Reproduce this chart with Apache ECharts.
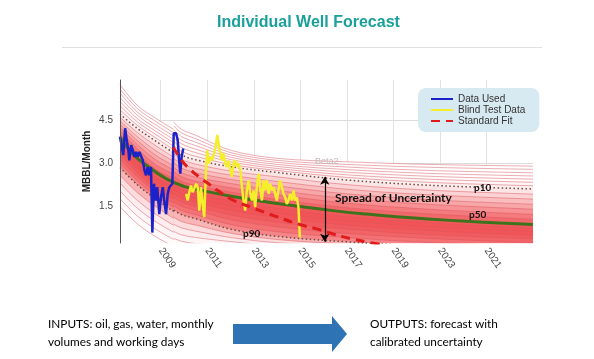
<!DOCTYPE html>
<html><head><meta charset="utf-8">
<script src="https://cdn.jsdelivr.net/npm/echarts@6/dist/echarts.min.js"></script>
<style>html,body{margin:0;padding:0;background:#fff}#c{width:594px;height:359px}</style>
</head><body><div id="c"></div>
<script>
// ---------- axis ticks ----------
const tickYears  = [2009, 2011, 2013, 2015, 2017, 2019, 2021, 2023];
const tickLabels = ['2009','2011','2013','2015','2017','2019','2023','2021'];
const yTicks = [1.5, 3.0, 4.5];

// ---------- Data Used (blue) ----------
const blueYears  = [2007.25,2007.33,2007.39,2007.47,2007.54,2007.61,2007.65,2007.73,2007.80,2007.87,2007.94,2008.01,2008.08,2008.15,2008.23,2008.30,2008.37,2008.44,2008.51,2008.58,2008.64,2008.71,2008.79,2008.85,2008.94,2009.01,2009.09,2009.15,2009.23,2009.30,2009.37,2009.44,2009.50,2009.56,2009.66,2009.73,2009.79,2009.84,2009.90,2009.97];
const blueValues = [3.92,3.57,3.28,4.21,3.80,3.45,3.10,3.63,3.45,3.22,3.39,3.22,3.39,3.45,3.10,2.76,2.58,2.87,2.58,2.87,0.60,2.29,1.71,2.17,1.24,1.82,2.17,1.71,1.24,1.94,2.17,2.12,2.29,4.04,4.04,3.80,3.10,2.64,3.22,3.51];

// ---------- Blind Test Data (yellow) ----------
const yellowYears  = [2010.09,2010.16,2010.23,2010.30,2010.37,2010.44,2010.52,2010.59,2010.66,2010.73,2010.80,2010.87,2010.94,2011.00,2011.07,2011.15,2011.21,2011.29,2011.36,2011.43,2011.49,2011.56,2011.63,2011.70,2011.77,2011.85,2011.92,2011.99,2012.06,2012.13,2012.20,2012.27,2012.35,2012.42,2012.49,2012.56,2012.63,2012.70,2012.78,2012.85,2012.92,2012.99,2013.06,2013.13,2013.21,2013.27,2013.35,2013.42,2013.49,2013.56,2013.64,2013.70,2013.78,2013.85,2013.92,2013.99,2014.06,2014.13,2014.21,2014.28,2014.35,2014.42,2014.49,2014.56,2014.64,2014.71,2014.78,2014.85,2014.92,2014.98];
const yellowValues = [1.94,1.71,2.00,2.23,2.00,2.12,2.29,2.17,1.36,2.17,1.59,1.13,2.64,3.45,2.99,3.22,3.10,3.34,3.57,3.98,3.92,3.34,3.10,3.34,2.99,2.87,3.10,2.76,2.53,2.99,3.10,2.87,2.99,2.76,2.17,1.71,1.36,2.06,2.41,1.94,1.71,2.06,1.48,2.17,2.64,2.17,1.71,2.41,2.06,2.41,1.94,2.29,2.06,2.17,1.94,1.71,2.06,2.41,2.17,1.94,1.82,1.59,1.71,1.94,1.71,2.06,1.71,1.82,1.48,0.43];

// ---------- Standard Fit (red dashed) ----------
const fitYears  = [2009.54,2009.90,2010.18,2010.69,2011.12,2011.40,2012.12,2012.97,2013.98,2014.98,2015.83,2016.41,2017.12,2017.84,2018.55];
const fitValues = [3.55,3.10,2.85,2.50,2.25,2.08,1.72,1.45,1.15,0.88,0.70,0.55,0.40,0.28,0.18];

// ---------- p50 (green) ----------
const p50Years  = [2007.25,2007.8,2008.5,2009.25,2010.0,2010.7,2012.1,2013.55,2015.0,2016.4,2017.85,2019.3,2020.7,2022.15,2023.6,2025.0];
const p50Values = [3.90,3.32,2.86,2.46,2.20,2.07,1.85,1.66,1.50,1.36,1.24,1.14,1.06,0.99,0.93,0.88];

// ---------- forecast fan (first 4 points before the restart, last 8 after) ----------
const fanYears = [2007.25,2008.0,2008.8,2009.56,2009.56,2009.9,2010.5,2012.0,2014.0,2017.0,2020.5,2025.0];
const fanT   = [5.72,5.00,4.55,4.17, 4.42,4.17,3.97,3.45,3.17,3.05,2.96,2.90];
const fanU1  = [5.57,4.89,4.44,4.05, 4.29,4.05,3.85,3.37,3.10,2.96,2.86,2.79];
const fanU2  = [5.43,4.77,4.32,3.94, 4.15,3.92,3.73,3.29,3.03,2.87,2.75,2.67];
const fanU3  = [5.28,4.66,4.21,3.82, 4.02,3.79,3.61,3.21,2.96,2.78,2.65,2.56];
const fanU4  = [5.14,4.54,4.10,3.71, 3.88,3.67,3.49,3.13,2.89,2.69,2.55,2.45];
const fanU5  = [4.99,4.43,3.99,3.59, 3.75,3.54,3.37,3.05,2.82,2.60,2.45,2.34];
const fanU6  = [4.85,4.31,3.87,3.47, 3.61,3.41,3.24,2.96,2.75,2.51,2.34,2.22];
const fanP10 = [4.70,4.20,3.76,3.36, 3.48,3.28,3.12,2.88,2.68,2.42,2.24,2.11];
const fanM1  = [4.59,4.06,3.60,3.21, 3.33,3.13,2.97,2.73,2.53,2.26,2.07,1.93];
const fanM2  = [4.47,3.92,3.43,3.07, 3.17,2.98,2.82,2.59,2.37,2.10,1.91,1.76];
const fanM3  = [4.36,3.78,3.27,2.92, 3.02,2.83,2.67,2.44,2.22,1.94,1.74,1.58];
const fanM4  = [4.24,3.64,3.11,2.77, 2.86,2.67,2.52,2.30,2.06,1.78,1.58,1.41];
const fanM5  = [4.13,3.50,2.94,2.63, 2.71,2.53,2.38,2.15,1.91,1.62,1.41,1.23];
const fanM6  = [4.01,3.36,2.78,2.48, 2.55,2.37,2.23,2.00,1.75,1.46,1.25,1.06];
const fanP50 = [3.90,3.22,2.62,2.33, 2.40,2.22,2.08,1.86,1.60,1.30,1.08,0.88];
const fanL1  = [3.75,3.08,2.50,2.19, 2.25,2.08,1.94,1.70,1.44,1.15,0.94,0.75];
const fanL2  = [3.60,2.94,2.37,2.04, 2.11,1.93,1.79,1.53,1.28,1.01,0.81,0.63];
const fanL3  = [3.45,2.80,2.25,1.90, 1.96,1.79,1.65,1.37,1.12,0.86,0.67,0.50];
const fanL4  = [3.30,2.66,2.12,1.76, 1.82,1.65,1.51,1.21,0.96,0.72,0.53,0.38];
const fanL5  = [3.15,2.53,2.00,1.62, 1.67,1.51,1.37,1.05,0.80,0.57,0.40,0.25];
const fanL6  = [3.00,2.39,1.87,1.47, 1.53,1.36,1.22,0.88,0.63,0.43,0.26,0.13];
const fanP90 = [2.85,2.25,1.75,1.33, 1.38,1.22,1.08,0.72,0.47,0.28,0.12,0.00];
const fanB1  = [2.58,1.98,1.49,1.09, 1.13,0.98,0.86,0.58,0.36,0.20,0.06,0.00];
const fanB2  = [2.31,1.71,1.23,0.85, 0.89,0.76,0.65,0.43,0.25,0.12,0.00,0.00];
const fanB3  = [2.04,1.44,0.97,0.61, 0.64,0.52,0.43,0.29,0.14,0.04,0.00,0.00];
const fanB4  = [1.77,1.17,0.71,0.36, 0.40,0.30,0.22,0.14,0.03,0.00,0.00,0.00];
const fanB5  = [1.50,0.90,0.45,0.12, 0.15,0.07,0.00,0.00,0.00,0.00,0.00,0.00];
// curves from top to bottom; density of the red band directly below each
const fanCurves = [fanT,fanU1,fanU2,fanU3,fanU4,fanU5,fanU6,fanP10,fanM1,fanM2,fanM3,fanM4,fanM5,fanM6,fanP50,fanL1,fanL2,fanL3,fanL4,fanL5,fanL6,fanP90,fanB1,fanB2,fanB3,fanB4,fanB5];
const fanDensity = [0,0,0,0.01,0.02,0.04,0.07,0.12,0.2,0.3,0.4,0.5,0.6,0.68,0.76,0.78,0.77,0.74,0.7,0.64,0.55,0.34,0.16,0.08,0.04,0.02,0];

// spread-of-uncertainty arrow
const spreadYear = 2016.05, spreadTop = 2.53, spreadBottom = 0.28;

// ---------- build ----------
const pairs = (xs, ys) => xs.map((x, i) => [x, ys[i]]);
function mix(a) {
  const r = Math.round(255 + a * (238 - 255)), g = Math.round(255 + a * (34 - 255)), b = Math.round(255 + a * (38 - 255));
  return 'rgb(' + r + ',' + g + ',' + b + ')';
}
const series = [];
fanCurves.forEach((c, k) => {
  const dotted = (c === fanP10 || c === fanP90);
  const segs = [pairs(fanYears.slice(0, 4), c.slice(0, 4)), pairs(fanYears.slice(4), c.slice(4))];
  segs.forEach(seg => {
    series.push({
      type: 'line', data: seg, smooth: 0.35, symbol: 'none', silent: true,
      lineStyle: dotted ? {color: '#6b4c42', width: 1.5, type: [1.5, 2.5]} : {color: 'rgba(214,86,96,0.7)', width: 0.7},
      areaStyle: {color: mix(fanDensity[k]), opacity: 1, origin: 'start'},
      z: 2
    });
  });
});
series.push({
  name: 'p50', type: 'line', data: pairs(p50Years, p50Values), smooth: true, symbol: 'none', silent: true,
  lineStyle: {color: '#3f721d', width: 3}, z: 3,
  markLine: {silent: true, symbol: ['arrow', 'arrow'], symbolSize: [7, 8], label: {show: false},
    lineStyle: {color: '#000', width: 1.2, type: 'solid'},
    data: [[{coord: [spreadYear, spreadTop]}, {coord: [spreadYear, spreadBottom]}]]}
});
series.push({name: 'Blind Test Data', type: 'line', data: pairs(yellowYears, yellowValues), symbol: 'none', lineStyle: {color: '#f4ee2c', width: 2.5}, z: 4});
series.push({name: 'Data Used', type: 'line', data: pairs(blueYears, blueValues), symbol: 'none', lineStyle: {color: '#1b22c9', width: 2.5}, z: 5});
series.push({name: 'Standard Fit', type: 'line', data: pairs(fitYears, fitValues), symbol: 'none', smooth: true, lineStyle: {color: '#e01b1b', width: 3, type: [9, 6]}, z: 6});

const chart = echarts.init(document.getElementById('c'), null, {renderer: 'canvas'});
const txt = (x, y, t, st) => ({type: 'text', left: x, top: y, z: 100, style: Object.assign({text: t, fill: '#000'}, st)});
chart.setOption({
  animation: false,
  backgroundColor: '#fff',
  grid: {left: 120, right: 61, top: 80, bottom: 116},
  xAxis: {
    type: 'value', min: 2007.25, max: 2025,
    axisLine: {show: false}, axisTick: {show: false, customValues: tickYears},
    axisLabel: {customValues: tickYears, rotate: -55, margin: 6, fontSize: 10, color: '#444', fontFamily: 'Liberation Sans',
      formatter: v => { let i = tickYears.findIndex(t => Math.abs(t - v) < 0.01); return i >= 0 ? tickLabels[i] : ''; }},
    splitLine: {show: true, lineStyle: {color: '#e2e2e2', width: 1}}
  },
  yAxis: [{
    type: 'value', min: 0.24, max: 5.88,
    name: 'MBBL/Month', nameLocation: 'middle', nameRotate: 90, nameGap: 28, nameMoveOverlap: false,
    nameTextStyle: {fontSize: 10, fontWeight: 'bold', color: '#222', fontFamily: 'Liberation Sans'},
    axisLine: {show: false}, axisTick: {show: false, customValues: yTicks},
    axisLabel: {customValues: yTicks, margin: 7, fontSize: 10, color: '#444', fontFamily: 'Liberation Sans', formatter: v => v.toFixed(1)},
    splitLine: {show: true, lineStyle: {color: '#dcdcdc', width: 1}}
  }, {
    type: 'value', min: 0.24, max: 5.88, position: 'left', z: 10,
    axisLine: {show: true, lineStyle: {color: '#555', width: 1}}, axisTick: {show: false},
    axisLabel: {show: false}, splitLine: {show: false}
  }],
  legend: {
    data: ['Data Used', 'Blind Test Data', 'Standard Fit'],
    orient: 'vertical', left: 418, top: 88, width: 107,
    backgroundColor: '#d7e9f1', borderRadius: 8, padding: [6, 14, 6, 12],
    itemWidth: 22, itemHeight: 10, itemGap: 1, selectedMode: false,
    itemStyle: {opacity: 0},
    textStyle: {fontSize: 10, color: '#333', fontFamily: 'Liberation Sans'}
  },
  series: series,
  graphic: [
    txt(217, 15, 'Individual Well Forecast', {font: 'bold 16px "Liberation Sans"', fill: '#1aa09a'}),
    {type: 'line', z: 100, shape: {x1: 62, y1: 47.5, x2: 542, y2: 47.5}, style: {stroke: '#e0e0e0', lineWidth: 1}},
    txt(315, 157, 'Beta2', {font: '9px "Liberation Sans"', fill: '#c4b8b8'}),
    txt(335, 192, 'Spread of Uncertainty', {font: 'bold 12px Lato', fill: '#111'}),
    txt(474, 183, 'p10', {font: 'bold 10px Lato', fill: '#111'}),
    txt(469, 210, 'p50', {font: 'bold 10px Lato', fill: '#111'}),
    txt(243, 229, 'p90', {font: 'bold 10px Lato', fill: '#111'}),
    txt(48, 318, 'INPUTS: oil, gas, water, monthly', {font: '11.8px Lato', fill: '#000'}),
    txt(48, 336, 'volumes and working days', {font: '11.8px Lato', fill: '#000'}),
    txt(370, 318, 'OUTPUTS: forecast with', {font: '11.8px Lato', fill: '#000'}),
    txt(370, 336, 'calibrated uncertainty', {font: '11.8px Lato', fill: '#000'}),
    {type: 'polygon', z: 100, shape: {points: [[233, 324], [332, 324], [332, 316], [347, 334], [332, 352], [332, 344], [233, 344]]}, style: {fill: '#2e74b5'}}
  ]
});
</script></body></html>
